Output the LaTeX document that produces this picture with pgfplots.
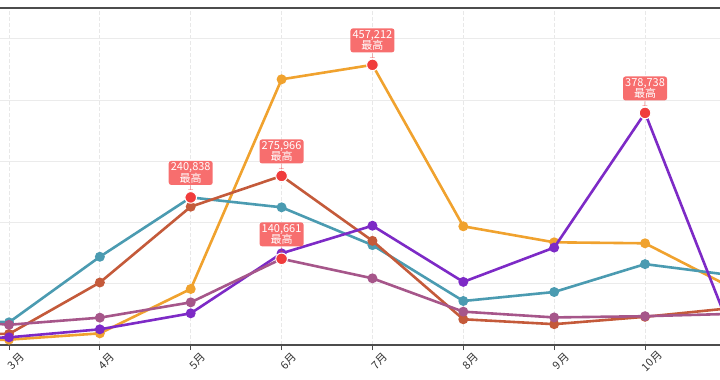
\documentclass[border=0pt]{standalone}
\usepackage{fontspec}
\setmainfont{Noto Sans CJK SC}
\usepackage{pgfplots}
\pgfplotsset{compat=1.18}
\usepackage{pgfplotstable}
\definecolor{corange}{HTML}{F0A22E}
\definecolor{cteal}{HTML}{4B9BB1}
\definecolor{cbrown}{HTML}{C45A3A}
\definecolor{cpurple}{HTML}{7D2AC6}
\definecolor{cmauve}{HTML}{A6568A}
\definecolor{cmark}{HTML}{F03C3C}
\definecolor{cbox}{HTML}{F76E6E}

\pgfplotstableread{
m orange teal brown purple mauve
2 6000 45000 20000 8000 45000
3 8700 37000 18000 12500 33000
4 19000 144000 102000 25600 44600
5 91400 240838 225700 51700 69600
6 433600 224700 275966 149600 140661
7 457212 163000 170000 194700 108800
8 193700 71800 42000 103000 54400
9 167600 86500 34000 159000 45000
10 166000 132000 46000 378738 47000
11 90000 113000 61000 2000 51000
}\data

\pgfplotstableread{
m v lab
5 240838 240,838
6 275966 275,966
7 457212 457,212
10 378738 378,738
6 140661 140,661
}\maxpts

\begin{document}
\begin{tikzpicture}
\useasboundingbox (0,0) rectangle (720pt,380pt);
\begin{axis}[
  at={(0pt,35pt)}, anchor=south west,
  scale only axis, width=720pt, height=337pt,
  xmin=2.901, xmax=10.825, ymin=0, ymax=550000,
  separate axis lines,
  y axis line style={draw=none},
  x axis line style={draw=black!70, line width=1.4pt},
  xtick={3,...,10},
  xticklabels={3月,4月,5月,6月,7月,8月,9月,10月},
  xtick pos=left, ytick pos=left,
  ytick={100000,200000,300000,400000,500000}, yticklabels={},
  ytick style={draw=none},
  xtick style={draw=black!70, line width=0.8pt},
  major tick length=5pt, tick align=outside,
  xmajorgrids, ymajorgrids,
  y grid style={black!8, line width=0.8pt},
  x grid style={black!9, line width=0.8pt, dash pattern=on 4pt off 2pt},
  xticklabel style={rotate=45, anchor=center, yshift=-13pt, xshift=-3pt, font=\fontsize{11}{12}\selectfont, text=black!80},
  clip marker paths=true,
  every axis plot/.append style={line width=2.6pt, mark=*, mark size=3.6pt},
]
\addplot[corange] table[x=m,y=orange]{\data};
\addplot[cteal] table[x=m,y=teal]{\data};
\addplot[cbrown] table[x=m,y=brown]{\data};
\addplot[cpurple] table[x=m,y=purple]{\data};
\addplot[cmauve] table[x=m,y=mauve]{\data};
\addplot[only marks, mark=*, mark size=5.8pt, color=cmark,
  mark options={draw=white, line width=1pt},
  point meta=explicit symbolic,
  nodes near coords={\pgfplotspointmeta\\最高},
  every node near coord/.append style={anchor=south, yshift=12pt, fill=cbox,
    rounded corners=2.5pt, text=white, align=center,
    font=\fontsize{11}{11.5}\selectfont, inner sep=1.8pt, minimum width=44pt,
    label={[text=cmark, inner sep=0pt, font=\scriptsize, yshift=0pt]below:$\perp$}}
] table[x=m,y=v,meta=lab]{\maxpts};
\end{axis}
\end{tikzpicture}
\end{document}
